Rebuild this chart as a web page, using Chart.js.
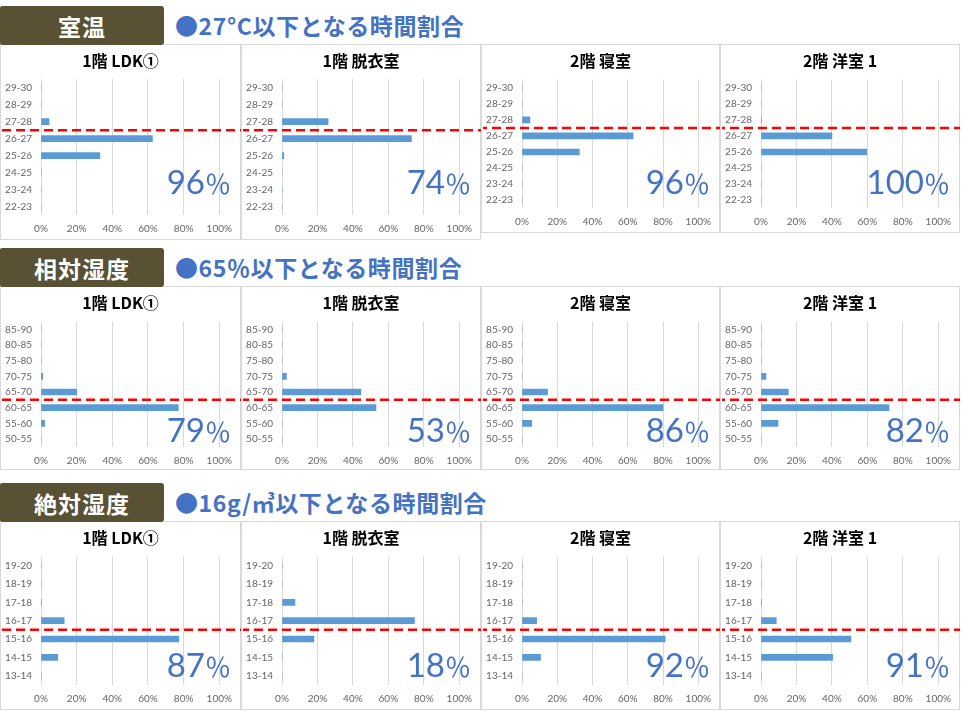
<!DOCTYPE html>
<html>
<head>
<meta charset="utf-8">
<title>時間割合</title>
<script src="https://cdn.jsdelivr.net/npm/chart.js@4.4.1/dist/chart.umd.min.js"></script>
<style>
  html, body { margin: 0; padding: 0; background: #fff; }
  #page { position: relative; width: 971px; height: 712px; overflow: hidden; }
  .head {
    position: absolute; left: 0; width: 164px; background: #595133; color: #fff;
    font: bold 23px "Noto Sans CJK JP", sans-serif; letter-spacing: 1px;
    display: flex; align-items: center; justify-content: center;
    border-radius: 2px 3px 3px 2px; z-index: 3;
  }
  .note {
    position: absolute; left: 175px; height: 37px; display: flex; align-items: center;
    font: bold 23px "Noto Sans CJK JP", sans-serif; color: #4472C4; letter-spacing: 0.6px;
    white-space: nowrap; z-index: 3;
  }
  .panel { position: absolute; border: 1px solid #d9d9d9; box-sizing: border-box; z-index: 1; }
  canvas { position: absolute; z-index: 2; }
</style>
</head>
<body>
<div id="page"></div>
<script>
const rooms = ['1階 LDK①', '1階 脱衣室', '2階 寝室', '2階 洋室 1'];

// 室温 (°C)
const tempBins = ['29-30', '28-29', '27-28', '26-27', '25-26', '24-25', '23-24', '22-23'];
const tempLdk = [0, 0, 4.5, 62.5, 33, 0, 0, 0];
const tempDatsui = [0, 0, 26, 73, 1, 0, 0, 0];
const tempShinshitsu = [0, 0, 4.5, 63, 32.5, 0, 0, 0];
const tempYoshitsu = [0, 0, 0.3, 40, 59.7, 0, 0, 0];
const tempShare = [96, 74, 96, 100];

// 相対湿度 (%)
const rhBins = ['85-90', '80-85', '75-80', '70-75', '65-70', '60-65', '55-60', '50-55'];
const rhLdk = [0, 0, 0, 1, 20, 77, 2, 0];
const rhDatsui = [0, 0, 0, 2.5, 44.5, 53, 0, 0];
const rhShinshitsu = [0, 0, 0, 0, 14.5, 80, 5.5, 0];
const rhYoshitsu = [0, 0, 0, 2.8, 15.4, 72.2, 9.6, 0];
const rhShare = [79, 53, 86, 82];

// 絶対湿度 (g/㎥)
const ahBins = ['19-20', '18-19', '17-18', '16-17', '15-16', '14-15', '13-14'];
const ahLdk = [0, 0, 0.3, 13, 77.3, 9.4, 0];
const ahDatsui = [0, 0, 7.3, 74.7, 18, 0, 0];
const ahShinshitsu = [0, 0, 0, 8.3, 81.2, 10.5, 0];
const ahYoshitsu = [0, 0, 0.3, 8.6, 50.7, 40.4, 0];
const ahShare = [87, 18, 92, 91];

// layout of the page
const colLeft = [0, 241, 481, 720];
const colWidth = [241, 240, 239, 240];

const sections = [
  { label: '室温', note: '●27°C以下となる時間割合', bins: tempBins,
    values: [tempLdk, tempDatsui, tempShinshitsu, tempYoshitsu], share: tempShare, cut: 2,
    boxTop: 6, panelTop: 44, panelBottom: [240, 240, 233, 233],
    chartTop: [79.2, 79.2, 79.7, 79.7], chartBottom: [215.2, 215.2, 208.2, 208.2], baseline: 194 },
  { label: '相対湿度', note: '●65％以下となる時間割合', bins: rhBins,
    values: [rhLdk, rhDatsui, rhShinshitsu, rhYoshitsu], share: rhShare, cut: 4,
    boxTop: 248, panelTop: 286, panelBottom: [470, 470, 470, 470],
    chartTop: [321.5, 321.5, 321.5, 321.5], chartBottom: [446.8, 446.8, 446.8, 446.8], baseline: 441.5 },
  { label: '絶対湿度', note: '●16g/㎥以下となる時間割合', bins: ahBins,
    values: [ahLdk, ahDatsui, ahShinshitsu, ahYoshitsu], share: ahShare, cut: 3,
    boxTop: 483, panelTop: 521, panelBottom: [710, 710, 710, 710],
    chartTop: [556.5, 556.5, 556.5, 556.5], chartBottom: [684.8, 684.8, 684.8, 684.8], baseline: 676.5 }
];

const tickFont = { family: 'Lato, "Noto Sans CJK JP", sans-serif', size: 10 };

// red dashed line between two categories, across the whole panel
const cutLine = {
  id: 'cutLine',
  afterDraw(chart, args, opts) {
    const y = chart.scales.y;
    const py = (y.getPixelForValue(opts.index) + y.getPixelForValue(opts.index + 1)) / 2;
    const ctx = chart.ctx;
    ctx.save();
    ctx.strokeStyle = '#FF0000';
    ctx.lineWidth = 2.5;
    ctx.setLineDash([9, 5]);
    ctx.lineDashOffset = opts.offset || 0;
    ctx.beginPath();
    ctx.moveTo(2, py);
    ctx.lineTo(chart.width, py);
    ctx.stroke();
    ctx.restore();
  }
};

// big share figure in the lower right
const bigShare = {
  id: 'bigShare',
  afterDatasetsDraw(chart, args, opts) {
    const ctx = chart.ctx;
    const right = chart.width - 10;
    ctx.save();
    ctx.fillStyle = '#4472C4';
    ctx.textAlign = 'right';
    ctx.textBaseline = 'alphabetic';
    ctx.font = '26px "Noto Sans CJK JP"';
    const pw = ctx.measureText('％').width;
    ctx.fillText('％', right, opts.baseline);
    ctx.font = '33px Lato';
    ctx.fillText(String(opts.value), right - pw, opts.baseline);
    ctx.restore();
  }
};

const page = document.getElementById('page');

sections.forEach(sec => {
  const head = document.createElement('div');
  head.className = 'head';
  head.style.top = sec.boxTop + 'px';
  head.style.height = (sec.panelTop + 1 - sec.boxTop) + 'px';
  head.textContent = sec.label;
  page.appendChild(head);

  const note = document.createElement('div');
  note.className = 'note';
  note.style.top = sec.boxTop + 'px';
  note.textContent = sec.note;
  page.appendChild(note);

  rooms.forEach((room, i) => {
    const left = colLeft[i];
    const w = colWidth[i];
    const h = sec.panelBottom[i] - sec.panelTop;

    const panel = document.createElement('div');
    panel.className = 'panel';
    panel.style.left = left + 'px';
    panel.style.top = sec.panelTop + 'px';
    panel.style.width = w + 'px';
    panel.style.height = h + 'px';
    page.appendChild(panel);

    const canvas = document.createElement('canvas');
    canvas.width = w;
    canvas.height = h;
    canvas.style.left = left + 'px';
    canvas.style.top = sec.panelTop + 'px';
    canvas.style.width = w + 'px';
    canvas.style.height = h + 'px';
    page.appendChild(canvas);

    const topRel = sec.chartTop[i] - sec.panelTop;
    const bottomRel = h - (sec.chartBottom[i] - sec.panelTop);

    new Chart(canvas, {
      type: 'bar',
      data: {
        labels: sec.bins,
        datasets: [{
          data: sec.values[i],
          backgroundColor: '#5B9BD5',
          barThickness: 6
        }]
      },
      options: {
        indexAxis: 'y',
        responsive: false,
        animation: false,
        layout: { padding: 0 },
        plugins: {
          legend: { display: false },
          tooltip: { enabled: false },
          title: {
            display: true,
            text: room,
            color: '#000',
            font: { family: '"Noto Sans CJK JP", sans-serif', size: 16, weight: 'bold', lineHeight: 1.2 },
            padding: { top: 7, bottom: topRel - 7 - 19.2 }
          },
          cutLine: { index: sec.cut, offset: left % 14 },
          bigShare: { value: sec.share[i], baseline: sec.baseline - sec.panelTop }
        },
        scales: {
          x: {
            min: 0,
            max: 100,
            ticks: { stepSize: 20, callback: v => v + '%', color: '#666', font: tickFont, padding: 8, maxRotation: 0 },
            grid: { color: '#d9d9d9', drawTicks: false },
            border: { display: false },
            // keep the plot clear of the right edge without shifting the title
            afterFit: s => { s.height = bottomRel; s.paddingRight = 21.7; }
          },
          y: {
            ticks: { color: '#666', font: tickFont, padding: 9, autoSkip: false },
            grid: { display: false, drawTicks: false },
            border: { display: false },
            afterFit: s => { s.width = 41; }
          }
        }
      },
      plugins: [cutLine, bigShare]
    });
  });
});
</script>
</body>
</html>
